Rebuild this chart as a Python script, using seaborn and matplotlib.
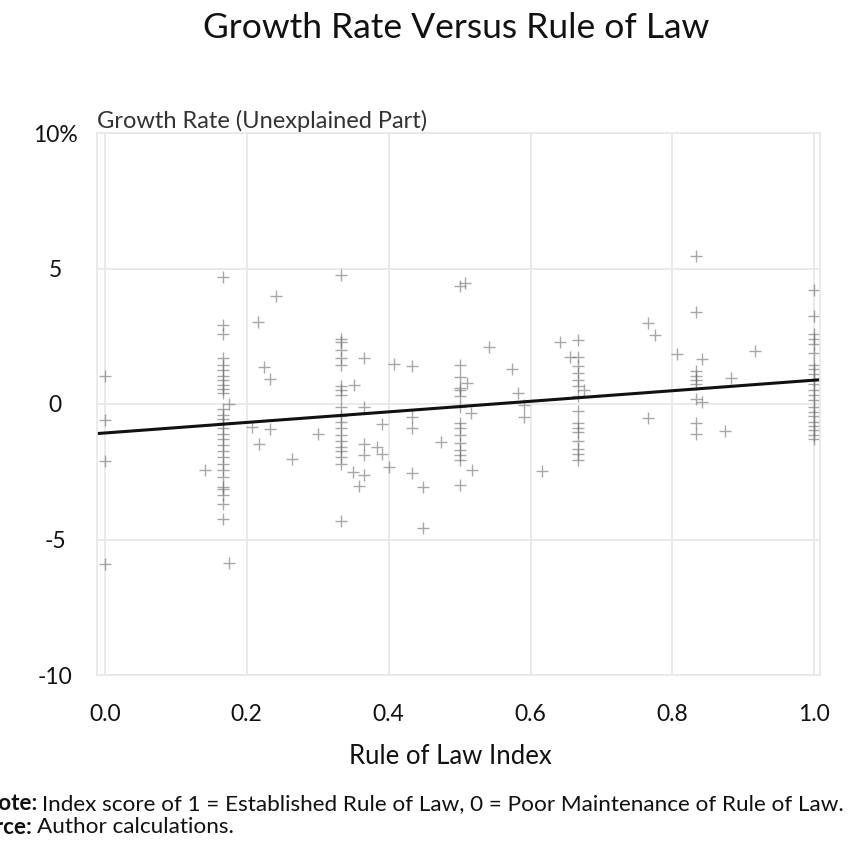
import numpy as np
import pandas as pd
import matplotlib
matplotlib.use('Agg')
import matplotlib.pyplot as plt
import seaborn as sns

# Pontos: colunas do índice (sextos) e pontos soltos
col_x = [0.0, 1/6, 1/3, 0.5, 2/3, 5/6, 1.0]
col_growth = [
    [1.05, -0.6, -2.1, -5.9],
    [4.7, 2.9, 2.6, 1.7, 1.45, 1.25, 1.05, 0.9, 0.7, 0.55, 0.4, -0.2, -0.4, -0.55, -0.7,
     -0.9, -1.1, -1.3, -1.5, -1.75, -1.95, -2.2, -2.45, -2.7, -3.05, -3.15, -3.35, -3.7, -4.25],
    [4.75, 2.4, 2.3, 2.0, 1.7, 1.45, 0.65, 0.5, 0.35, -0.1, -0.45, -0.65, -0.9, -1.15, -1.35,
     -1.6, -1.75, -1.95, -2.2, -4.3],
    [4.35, 1.45, 1.0, 0.6, 0.5, 0.3, -0.1, -0.7, -0.9, -1.15, -1.45, -1.7, -1.9, -2.05, -3.0],
    [2.35, 1.75, 1.4, 1.15, 0.9, 0.65, 0.3, -0.25, -0.7, -0.9, -1.05, -1.35, -1.65, -1.85, -2.05],
    [5.45, 3.4, 1.2, 1.05, 0.9, 0.75, 0.2, -0.7, -1.1],
    [4.2, 3.25, 2.6, 2.4, 2.2, 1.9, 1.45, 1.3, 1.1, 0.9, 0.75, 0.5, 0.35, 0.15, -0.1, -0.3,
     -0.45, -0.65, -0.8, -0.95, -1.15, -1.3],
]

other_x = [0.141, 0.175, 0.175, 0.208, 0.216, 0.217, 0.224, 0.233, 0.233, 0.241, 0.264,
           0.300, 0.350, 0.351, 0.358, 0.366, 0.366, 0.366, 0.366, 0.366, 0.383, 0.391,
           0.391, 0.400, 0.408, 0.433, 0.433, 0.433, 0.433, 0.448, 0.449, 0.474, 0.508,
           0.510, 0.516, 0.517, 0.541, 0.574, 0.582, 0.591, 0.591, 0.616, 0.641, 0.655,
           0.676, 0.765, 0.765, 0.775, 0.807, 0.841, 0.841, 0.874, 0.882, 0.916]
other_growth = [-2.44, 0.0, -5.85, -0.84, 3.04, -1.49, 1.38, 0.92, -0.92, 3.99, -2.03,
                -1.11, -2.5, 0.7, -3.02, 1.71, -0.12, -1.48, -1.89, -2.62, -1.58, -0.75,
                -1.85, -2.34, 1.47, 1.4, -0.47, -0.9, -2.54, -4.57, -3.06, -1.39, 4.46,
                0.76, -0.35, -2.44, 2.12, 1.29, 0.39, -0.04, -0.47, -2.46, 2.3, 1.75,
                0.52, 2.98, -0.53, 2.53, 1.84, 1.66, 0.09, -1.0, 0.97, 1.96]

# Reta de regressão
fit_intercept = -1.07
fit_slope = 1.95

y_ticks = [10, 5, 0, -5, -10]
y_tick_labels = ['10%', '5', '0', '-5', '-10']
x_ticks = [0.0, 0.2, 0.4, 0.6, 0.8, 1.0]

xs = [x for x, g in zip(col_x, col_growth) for _ in g] + other_x
ys = [v for g in col_growth for v in g] + other_growth
df = pd.DataFrame({'rule_of_law': xs, 'growth': ys})

sns.set_theme(style='white')
plt.rcParams['font.family'] = ['Lato', 'DejaVu Sans']

fig = plt.figure(figsize=(8.61, 8.43), dpi=100)
ax = fig.add_axes([97/861, 1 - 675/843, (820 - 97)/861, (675 - 133)/843])

grid_c = '#e8e8e8'
sns.scatterplot(data=df, x='rule_of_law', y='growth', marker='+', s=64,
                color='#6e6e6e', alpha=0.6, linewidth=1.0, ax=ax, legend=False)

ax.set_xlim(-0.011, 1.008)
ax.set_ylim(-10, 10)
line_x = np.array(ax.get_xlim())
sns.lineplot(x=line_x, y=fit_intercept + fit_slope * line_x, color='#111111',
             linewidth=2.2, ax=ax)

ax.set_xticks(x_ticks)
ax.set_xticklabels([f'{t:.1f}' for t in x_ticks], fontsize=16.5, color='#111111')
ax.set_yticks(y_ticks)
ax.set_yticklabels(y_tick_labels, fontsize=16.5, color='#111111', ha='center')
ax.tick_params(axis='y', length=0, pad=30)
ax.tick_params(axis='x', length=0, pad=21)
ax.grid(True, color=grid_c, linewidth=1.3)
for s in ax.spines.values():
    s.set_color(grid_c)
    s.set_linewidth(1.3)

ax.set_xlabel('Rule of Law Index', fontsize=18.5, color='#111111')
ax.xaxis.set_label_coords((450 - 97) / 723, -(756 - 675) / 542, transform=ax.transAxes)
ax.get_xaxis().label.set_va('center')
ax.set_ylabel('')

fig.text(456/861, 1 - 28/843, 'Growth Rate Versus Rule of Law', ha='center', va='center',
         fontsize=25.5, color='#111111')
fig.text(97/861, 1 - 121/843, 'Growth Rate (Unexplained Part)', ha='left', va='center',
         fontsize=17, color='#333333')

note_size = 16.2
fig.text(38/861, 1 - 804/843, 'Note:', ha='right', va='center', fontsize=note_size,
         fontweight='bold', color='#111111')
fig.text(42/861, 1 - 804/843,
         'Index score of 1 = Established Rule of Law, 0 = Poor Maintenance of Rule of Law.',
         ha='left', va='center', fontsize=note_size, color='#111111')
fig.text(32/861, 1 - 827/843, 'Source:', ha='right', va='center', fontsize=note_size,
         fontweight='bold', color='#111111')
fig.text(37/861, 1 - 827/843, 'Author calculations.', ha='left', va='center',
         fontsize=note_size, color='#111111')

fig.savefig('out.png', dpi=100)
